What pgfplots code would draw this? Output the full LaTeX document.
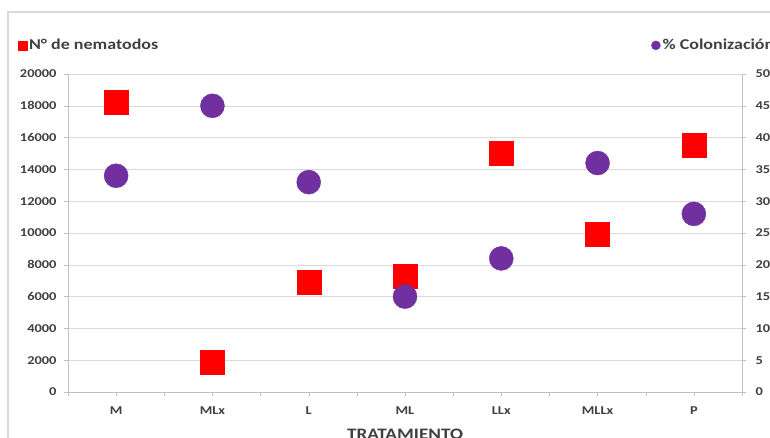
\documentclass[border=0pt]{standalone}
\usepackage{pgfplots}
\pgfplotsset{compat=1.18}
\usepackage{fontspec}
\setmainfont{Carlito}[FakeStretch=1.2]
\definecolor{myred}{HTML}{FF0000}
\definecolor{mypurple}{HTML}{7030A0}
\definecolor{txt}{HTML}{404040}
\pgfplotstableread{
x y
0 18200
1 1850
2 6900
3 7300
4 15000
5 9900
6 15500
}\nematodos
\pgfplotstableread{
x y
0 34
1 45
2 33
3 15
4 21
5 36
6 28
}\colonizacion
\begin{document}
\begin{tikzpicture}[x=1pt,y=1pt]
\useasboundingbox (0,0) rectangle (770,438);
\fill[white] (0,0) rectangle (770,438);
\draw[black!15, line width=1.5pt] (8,-5) -- (8,426) -- (780,426);
\begin{axis}[at={(68pt,46pt)}, anchor=south west, scale only axis,
 width=674pt, height=318pt,
 xmin=-0.5, xmax=6.5, ymin=0, ymax=20000,
 ytick={0,2000,...,20000},
 xtick={0,...,6}, xticklabels={M,MLx,L,ML,LLx,MLLx,P},
 minor xtick={-0.5,0.5,...,6.5},
 axis y line*=left, axis x line*=bottom,
 axis line style={black!25, -},
 ymajorgrids, grid style={black!15},
 tick style={black!25}, major tick length=4pt, minor tick length=4pt,
 tick align=outside,
 scaled y ticks=false,
 /pgf/number format/assume math mode=true,
 ticklabel style={font=\bfseries\fontsize{12}{13}\selectfont, text=txt},
 yticklabel style={xshift=-4pt, /pgf/number format/.cd, fixed, 1000 sep={}},
 xticklabel style={yshift=-7pt},
 xlabel={TRATAMIENTO},
 xlabel style={font=\bfseries\fontsize{16}{18}\selectfont, text=txt, yshift=-8pt},
 legend style={draw=none, fill=none, at={(-0.075,1.09)}, anchor=west,
   font=\bfseries\fontsize{15}{17}\selectfont, text=txt, inner sep=0pt},
 legend cell align=left,
 legend image code/.code={\draw[#1] (0pt,0pt) -- (0pt,0pt);
   \fill[myred] (-4.5pt,-4.5pt) rectangle (4.5pt,4.5pt);},
 clip=false,
]
\addplot[only marks, mark=square*, mark size=12pt, color=myred] table[x=x,y=y] {\nematodos};
\addlegendentry{N° de nematodos}
\end{axis}
\begin{axis}[at={(68pt,46pt)}, anchor=south west, scale only axis,
 width=674pt, height=318pt,
 xmin=-0.5, xmax=6.5, ymin=0, ymax=50,
 ytick={0,5,...,50},
 axis y line*=right, axis x line=none,
 axis line style={black!25, -},
 tick style={black!25}, major tick length=4pt,
 tick align=outside,
 /pgf/number format/assume math mode=true,
 ticklabel style={font=\bfseries\fontsize{12}{13}\selectfont, text=txt},
 yticklabel style={xshift=6pt},
 legend style={draw=none, fill=none, at={(0.865,1.09)}, anchor=west,
   font=\bfseries\fontsize{15}{17}\selectfont, text=txt, inner sep=0pt},
 legend cell align=left,
 legend image code/.code={\draw[#1] (0pt,0pt) -- (0pt,0pt);
   \fill[mypurple] (0pt,0pt) circle (4.5pt);},
 clip=false,
]
\addplot[only marks, mark=*, mark size=12pt, color=mypurple, mark options={draw=mypurple, fill=mypurple}] table[x=x,y=y] {\colonizacion};
\addlegendentry{\% Colonización}
\end{axis}
\end{tikzpicture}
\end{document}
